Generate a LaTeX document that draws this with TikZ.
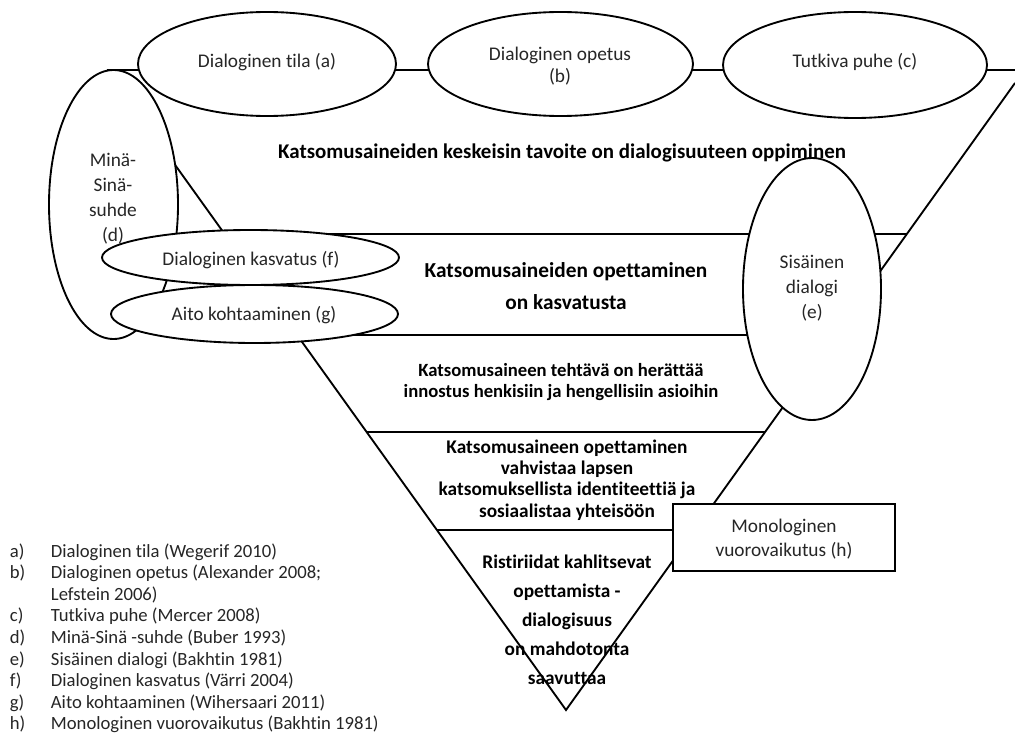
\documentclass[tikz,border=0pt]{standalone}
\usepackage{fontspec}
\setmainfont{Carlito}[Ligatures={NoCommon}]
\usetikzlibrary{shapes.geometric}
\begin{document}
\begin{tikzpicture}[x=0.75pt,y=-0.75pt,line width=1.4pt,
  oval/.style={ellipse,draw,fill=white,inner sep=0pt,line width=1.4pt},
  lbl/.style={text=black!85,font=\fontsize{14.5}{16.5}\selectfont,align=center,inner sep=0pt},
  band/.style={font=\bfseries\fontsize{14.5}{16}\selectfont,align=center,inner sep=0pt},
  leg/.style={anchor=base west,font=\fontsize{14}{15}\selectfont,text=black!85,inner sep=0pt}]
\useasboundingbox[fill=white] (0,0) rectangle (1015,749);
% triangle
\coordinate (tl) at (107,70);
\coordinate (tr) at (1015,70);
\coordinate (tre) at (1015,83);
\coordinate (ap) at (566,710);
\draw (tl) -- (tr);
\draw (tl) -- (ap) -- (tre);
\draw (224.6,234) -- (906.9,234);
\draw (297,335) -- (834.5,335);
\draw (366.6,432) -- (765,432);
\draw (436.9,530) -- (694.9,530);
% ellipses
\node[oval,minimum width=96.75pt,minimum height=201.75pt] (ed) at (113.5,204.5) {};
\node[lbl,font=\fontsize{14.5}{18.75}\selectfont] (ld) at (113,199) {Minä-\\Sinä-\\suhde\\(d)};
\node[oval,minimum width=222.75pt,minimum height=41.25pt] (ef) at (250.5,257.5) {};
\node[lbl] (lf) at (251,260) {Dialoginen kasvatus (f)};
\node[oval,minimum width=215.25pt,minimum height=43.5pt] (eg) at (254.5,314) {};
\node[lbl] (lg) at (254,315) {Aito kohtaaminen (g)};
\node[oval,minimum width=103.5pt,minimum height=196.5pt] (ee) at (812,289) {};
\node[lbl,font=\fontsize{14.5}{18.75}\selectfont] (le) at (812,288) {Sisäinen\\dialogi\\(e)};
\node[oval,minimum width=193.5pt,minimum height=78pt] (ea) at (267,64) {};
\node[lbl] (la) at (267,62) {Dialoginen tila (a)};
\node[oval,minimum width=198.75pt,minimum height=78pt] (eb) at (560.5,64) {};
\node[lbl] (lb) at (560,66) {Dialoginen opetus\\(b)};
\node[oval,minimum width=198pt,minimum height=79.5pt] (ec) at (855,65) {};
\node[lbl] (lc) at (855,62) {Tutkiva puhe (c)};
% rectangle h
\draw[fill=white] (673,504) rectangle (895,571);
\node[lbl,font=\fontsize{14.5}{18}\selectfont] (lh) at (784,539) {Monologinen\\vuorovaikutus (h)};
% band texts
\node[band,font=\bfseries\fontsize{15.7}{17}\selectfont] (t1) at (562,153) {Katsomusaineiden keskeisin tavoite on dialogisuuteen oppiminen};
\node[band,font=\bfseries\fontsize{16}{24}\selectfont] (t2) at (566,286) {Katsomusaineiden opettaminen\\on kasvatusta};
\node[band,font=\bfseries\fontsize{14}{15.75}\selectfont] (t3) at (561,382) {Katsomusaineen tehtävä on herättää\\innostus henkisiin ja hengellisiin asioihin};
\node[band,font=\bfseries\fontsize{14.5}{16}\selectfont] (t4) at (567,480) {Katsomusaineen opettaminen\\vahvistaa lapsen\\katsomuksellista identiteettiä ja\\sosiaalistaa yhteisöön};
\node[band,font=\bfseries\fontsize{14.5}{21.75}\selectfont] (t5) at (567,620) {Ristiriidat kahlitsevat\\opettamista -\\dialogisuus\\on mahdotonta\\saavuttaa};
% legend
\foreach \k/\l/\t [count=\i from 0] in {la/a)/Dialoginen tila (Wegerif 2010),
  lb/b)/Dialoginen opetus (Alexander 2008;,
  lb2//Lefstein 2006),
  lc/c)/Tutkiva puhe (Mercer 2008),
  ld/d)/Minä-Sinä -suhde (Buber 1993),
  le/e)/Sisäinen dialogi (Bakhtin 1981),
  lf/f)/Dialoginen kasvatus (Värri 2004),
  lg/g)/Aito kohtaaminen (Wihersaari 2011),
  lh/h)/Monologinen vuorovaikutus (Bakhtin 1981)}{
  \node[leg] (k\k) at (9,557+21.6*\i) {\l};
  \node[leg] (x\k) at (50,557+21.6*\i) {\t};
}
\end{tikzpicture}
\end{document}
